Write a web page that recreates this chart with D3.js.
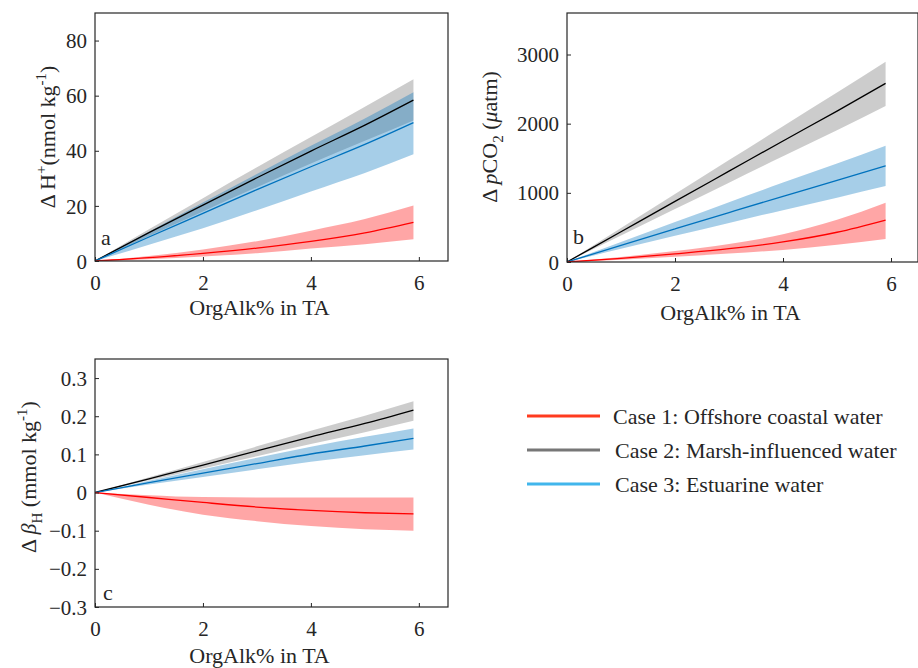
<!DOCTYPE html>
<html lang="en">
<head>
    <meta charset="UTF-8">
    <title>OrgAlk effect on carbonate system</title>
    <script src="https://d3js.org/d3.v7.min.js"></script>
    <style>
        body { margin: 0; background: #fff; }
        svg { display: block; }
        svg text { font-family: "Liberation Serif", "Times New Roman", serif; }
        .tick-label { font-size: 21px; fill: #262626; }
        .axis-label { font-size: 22px; fill: #262626; }
        .legend-text { font-size: 22px; fill: #262626; }
    </style>
</head>
<body>
    <svg width="918" height="668"></svg>

    <script>
        var orgAlk = [0, 1, 2, 3, 4, 5, 5.9];

        // panel a: delta H+ (nmol/kg)
        var hCase1 = [0, 1.2, 2.8, 4.7, 7.1, 10.2, 14.0];
        var hCase1Hi = [0, 1.8, 4.2, 7.2, 11.0, 15.2, 20.1];
        var hCase1Lo = [0, 0.6, 1.6, 2.8, 4.5, 6.1, 7.9];
        var hCase2 = [0, 10.3, 20.3, 30.2, 39.9, 49.3, 58.4];
        var hCase2Hi = [0, 11.5, 22.8, 34.0, 45.0, 56.0, 66.0];
        var hCase2Lo = [0, 9.1, 18.0, 26.8, 35.4, 43.6, 51.0];
        var hCase3 = [0, 8.7, 17.3, 25.9, 34.2, 42.3, 50.2];
        var hCase3Hi = [0, 10.6, 21.2, 31.6, 41.8, 51.7, 61.2];
        var hCase3Lo = [0, 5.9, 11.9, 18.4, 25.2, 31.9, 38.7];

        // panel b: delta pCO2 (uatm)
        var pCase1 = [0, 52, 118, 192, 290, 430, 607];
        var pCase1Hi = [0, 72, 160, 262, 400, 610, 857];
        var pCase1Lo = [0, 33, 76, 122, 175, 248, 332];
        var pCase2 = [0, 438, 876, 1313, 1750, 2182, 2582];
        var pCase2Hi = [0, 491, 982, 1473, 1963, 2450, 2895];
        var pCase2Lo = [0, 382, 765, 1146, 1528, 1905, 2254];
        var pCase3 = [0, 240, 478, 715, 950, 1180, 1392];
        var pCase3Hi = [0, 290, 578, 865, 1148, 1425, 1681];
        var pCase3Lo = [0, 190, 378, 565, 750, 930, 1098];

        // panel c: delta beta_H (mmol/kg)
        var bCase1 = [0, -0.013, -0.026, -0.038, -0.047, -0.053, -0.056];
        var bCase1Hi = [0, -0.007, -0.012, -0.013, -0.013, -0.013, -0.013];
        var bCase1Lo = [0, -0.032, -0.058, -0.075, -0.088, -0.096, -0.100];
        var bCase2 = [0, 0.036, 0.072, 0.109, 0.146, 0.181, 0.216];
        var bCase2Hi = [0, 0.040, 0.080, 0.121, 0.162, 0.201, 0.239];
        var bCase2Lo = [0, 0.032, 0.063, 0.095, 0.127, 0.158, 0.188];
        var bCase3 = [0, 0.026, 0.051, 0.076, 0.101, 0.122, 0.142];
        var bCase3Hi = [0, 0.031, 0.061, 0.091, 0.120, 0.146, 0.168];
        var bCase3Lo = [0, 0.021, 0.041, 0.061, 0.081, 0.098, 0.113];

        var xTicks = [0, 2, 4, 6];
        var hTicks = [0, 20, 40, 60, 80];
        var pTicks = [0, 1000, 2000, 3000];
        var bTicks = [-0.3, -0.2, -0.1, 0, 0.1, 0.2, 0.3];

        var legendNames = ['Case 1: Offshore coastal water', 'Case 2: Marsh-influenced water', 'Case 3: Estuarine water'];
        var legendColors = ['#ff3b1f', '#777777', '#41b6ec'];

        var svg = d3.select('svg');
        var axisColor = '#262626';

        function drawPanel(p) {
            var x = d3.scaleLinear().domain(p.xDomain).range([p.left, p.right]);
            var y = d3.scaleLinear().domain(p.yDomain).range([p.bottom, p.top]);
            var g = svg.append('g');

            var clipId = 'clip-' + p.letter;
            g.append('clipPath').attr('id', clipId)
                .append('rect')
                .attr('x', p.left).attr('y', p.top)
                .attr('width', p.right - p.left).attr('height', p.bottom - p.top);

            var plot = g.append('g').attr('clip-path', 'url(#' + clipId + ')');

            var area = d3.area()
                .x(function(d) { return x(d.x); })
                .y0(function(d) { return y(d.lo); })
                .y1(function(d) { return y(d.hi); })
                .curve(d3.curveMonotoneX);
            var line = d3.line()
                .x(function(d) { return x(d.x); })
                .y(function(d) { return y(d.v); })
                .curve(d3.curveMonotoneX);

            // bands first (gray, blue, red), then the lines on top
            p.series.forEach(function(s) {
                var rows = orgAlk.map(function(v, i) {
                    return { x: v, v: s.mid[i], hi: s.hi[i], lo: s.lo[i] };
                });
                s.rows = rows;
                plot.append('path')
                    .attr('d', area(rows))
                    .attr('fill', s.fill)
                    .attr('fill-opacity', s.alpha)
                    .attr('stroke', 'none');
            });
            p.series.forEach(function(s) {
                plot.append('path')
                    .attr('d', line(s.rows))
                    .attr('fill', 'none')
                    .attr('stroke', s.stroke)
                    .attr('stroke-width', 1.3);
            });

            // ticks, drawn inward
            var xAxis = d3.axisBottom(x).tickValues(xTicks).tickSize(-4).tickPadding(10).tickFormat(d3.format('d'));
            var yAxis = d3.axisLeft(y).tickValues(p.yTicks).tickSize(-4).tickPadding(8).tickFormat(p.fmt);

            var gx = g.append('g').attr('transform', 'translate(0,' + p.bottom + ')').call(xAxis);
            var gy = g.append('g').attr('transform', 'translate(' + p.left + ',0)').call(yAxis);
            [gx, gy].forEach(function(ax) {
                ax.attr('font-family', null).attr('font-size', null);
                ax.select('.domain').remove();
                ax.selectAll('line').attr('stroke', axisColor).attr('stroke-width', 1);
                ax.selectAll('text')
                    .attr('class', 'tick-label')
                    .attr('fill', null)
                    .style('font-family', '"Liberation Serif", "Times New Roman", serif')
                    .style('font-size', '21px');
            });
            gx.selectAll('text').attr('dy', null).attr('y', 29);
            gy.selectAll('text').attr('dy', '0.34em');

            // box
            g.append('rect')
                .attr('x', p.left).attr('y', p.top)
                .attr('width', p.right - p.left).attr('height', p.bottom - p.top)
                .attr('fill', 'none').attr('stroke', axisColor).attr('stroke-width', 1.2);

            g.append('text').attr('class', 'axis-label')
                .attr('x', (p.left + p.right) / 2 - 12)
                .attr('y', p.xLabelY)
                .attr('text-anchor', 'middle')
                .text('OrgAlk% in TA');

            g.append('text').attr('class', 'axis-label')
                .attr('x', p.letterX).attr('y', p.letterY)
                .text(p.letter);

            var yl = g.append('text').attr('class', 'axis-label')
                .attr('text-anchor', 'middle')
                .attr('transform', 'translate(' + p.yLabelX + ',' + p.yLabelY + ') rotate(-90)');
            p.yLabel.forEach(function(part) {
                var t = yl.append('tspan').text(part.t);
                if (part.italic) t.attr('font-style', 'italic');
                if (part.sup) t.attr('dy', -9).attr('font-size', 15);
                if (part.sub) t.attr('dy', 6).attr('font-size', 15);
                if (part.back) t.attr('dy', part.back);
            });
        }

        var gray = '#000000', blue = '#0072bd', red = '#ff0000';

        drawPanel({
            letter: 'a', left: 95, right: 448, top: 13, bottom: 261,
            xDomain: [0, 6.54], yDomain: [0, 90], yTicks: hTicks, fmt: d3.format('d'),
            xLabelY: 315, letterX: 101, letterY: 245, yLabelX: 55, yLabelY: 137,
            yLabel: [{ t: '\u0394 H' }, { t: '+', sup: true }, { t: '(nmol kg', back: 9 }, { t: '-1', sup: true }, { t: ')', back: 9 }],
            series: [
                { mid: hCase2, hi: hCase2Hi, lo: hCase2Lo, fill: gray, alpha: 0.2, stroke: '#000' },
                { mid: hCase3, hi: hCase3Hi, lo: hCase3Lo, fill: blue, alpha: 0.35, stroke: blue },
                { mid: hCase1, hi: hCase1Hi, lo: hCase1Lo, fill: red, alpha: 0.35, stroke: red }
            ]
        });

        drawPanel({
            letter: 'b', left: 567, right: 918, top: 13, bottom: 262,
            xDomain: [0, 6.5], yDomain: [0, 3600], yTicks: pTicks, fmt: d3.format('d'),
            xLabelY: 320, letterX: 573, letterY: 244, yLabelX: 497, yLabelY: 137,
            yLabel: [{ t: '\u0394 ' }, { t: 'p', italic: true }, { t: 'CO' }, { t: '2', sub: true }, { t: ' (', back: -6 }, { t: '\u03bc', italic: true }, { t: 'atm)' }],
            series: [
                { mid: pCase2, hi: pCase2Hi, lo: pCase2Lo, fill: gray, alpha: 0.2, stroke: '#000' },
                { mid: pCase3, hi: pCase3Hi, lo: pCase3Lo, fill: blue, alpha: 0.35, stroke: blue },
                { mid: pCase1, hi: pCase1Hi, lo: pCase1Lo, fill: red, alpha: 0.35, stroke: red }
            ]
        });

        drawPanel({
            letter: 'c', left: 95, right: 448, top: 359, bottom: 607,
            xDomain: [0, 6.54], yDomain: [-0.3, 0.35], yTicks: bTicks,
            fmt: function(d) { return d === 0 ? '0' : d3.format('.1f')(d); },
            xLabelY: 663, letterX: 103, letterY: 600, yLabelX: 36, yLabelY: 477,
            yLabel: [{ t: '\u0394 ' }, { t: '\u03b2', italic: true }, { t: 'H', sub: true }, { t: ' (mmol kg', back: -6 }, { t: '-1', sup: true }, { t: ')', back: 9 }],
            series: [
                { mid: bCase2, hi: bCase2Hi, lo: bCase2Lo, fill: gray, alpha: 0.2, stroke: '#000' },
                { mid: bCase3, hi: bCase3Hi, lo: bCase3Lo, fill: blue, alpha: 0.35, stroke: blue },
                { mid: bCase1, hi: bCase1Hi, lo: bCase1Lo, fill: red, alpha: 0.35, stroke: red }
            ]
        });

        // legend
        var legendY = d3.scalePoint().domain(legendNames).range([416, 484]);
        var legend = svg.append('g');
        legendNames.forEach(function(name, i) {
            legend.append('line')
                .attr('x1', 527).attr('x2', 600)
                .attr('y1', legendY(name)).attr('y2', legendY(name))
                .attr('stroke', legendColors[i]).attr('stroke-width', 3);
            legend.append('text').attr('class', 'legend-text')
                .attr('x', i === 0 ? 613 : 615)
                .attr('y', legendY(name) + 7.5)
                .text(name);
        });
    </script>
</body>
</html>
